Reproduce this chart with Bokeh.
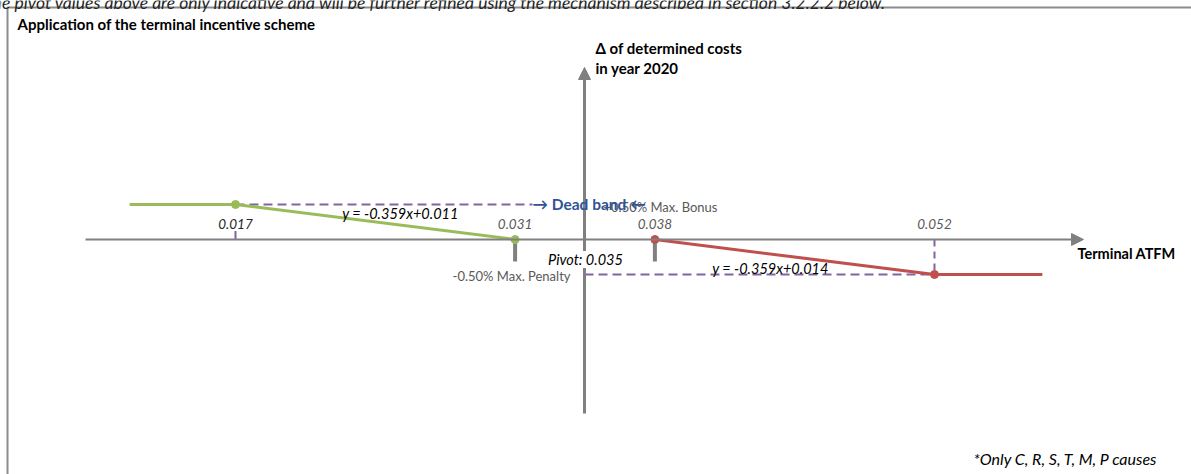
from bokeh.plotting import figure
from bokeh.models import Range1d, Label, Arrow, NormalHead
from bokeh.embed import file_html
from bokeh.resources import INLINE

# ---- data ----
thresholds = [0.017, 0.031, 0.038, 0.052]
threshold_labels = ["0.017", "0.031", "0.038", "0.052"]
pivot = 0.035
levels = [0.5, 0.0, -0.5]          # % change of determined costs
penalty_x = [0.0117, 0.017, 0.031]
penalty_y = [0.5, 0.5, 0.0]
bonus_x = [0.038, 0.052, 0.0574]
bonus_y = [0.0, -0.5, -0.5]
eq_penalty = "y = -0.359x+0.011"
eq_bonus = "y = -0.359x+0.014"

# ---- layout helpers (pixel -> data) ----
SX = 19971.0
def xd(px):
    return 0.017 + (px - 235) / SX
def yd(py):
    return (239 - py) / 70.0

W, H = 1191, 474
FONT = "Lato"
GREEN = "#9BBB59"
RED = "#C0504D"
PURPLE = "#8064A2"
GRAY = "#808080"
BLUE = "#2F5496"

p = figure(width=W, height=H, x_range=Range1d(xd(0), xd(W)), y_range=Range1d(yd(H), yd(0)),
           output_backend="svg", toolbar_location=None, min_border=0)
p.axis.visible = False
p.grid.visible = False
p.outline_line_color = None

# frame border
p.line([xd(7), xd(7), xd(W + 5)], [yd(H + 5), yd(7), yd(7)], line_color="#8c8c8c", line_width=2)

# purple dashed helper lines
p.line([thresholds[0], xd(532)], [levels[0], levels[0]], line_color=PURPLE, line_width=2, line_dash="9 5")
p.line([thresholds[0], thresholds[0]], [levels[1], 0.12], line_color=PURPLE, line_width=2)
p.line([thresholds[3], thresholds[3]], [levels[1], levels[2]], line_color=PURPLE, line_width=2, line_dash="7 5")
p.line([xd(584), thresholds[3]], [levels[2], levels[2]], line_color=PURPLE, line_width=2, line_dash="9 5")

# axes with arrows
p.add_layout(Arrow(end=NormalHead(size=12, fill_color=GRAY, line_color=GRAY),
                   x_start=xd(85), y_start=0, x_end=xd(1083), y_end=0,
                   line_color=GRAY, line_width=2))
p.add_layout(Arrow(end=NormalHead(size=12, fill_color=GRAY, line_color=GRAY),
                   x_start=xd(584), y_start=yd(413), x_end=xd(584), y_end=yd(67),
                   line_color=GRAY, line_width=3))

# dead band ticks
for t in (thresholds[1], thresholds[2]):
    p.line([t, t], [0, yd(261)], line_color=GRAY, line_width=4)

# incentive lines
p.line(penalty_x, penalty_y, line_color=GREEN, line_width=3)
p.scatter(penalty_x[1:], penalty_y[1:], size=8, color=GREEN)
p.line(bonus_x, bonus_y, line_color=RED, line_width=3)
p.scatter(bonus_x[:2], bonus_y[:2], size=8, color=RED)

def lab(x, y, text, size=13, color="#000000", style="normal", align="center", bg=None, font=FONT):
    l = Label(x=x, y=y, text=text, text_font=font, text_font_size=f"{size}px",
              text_color=color, text_font_style=style, text_align=align,
              text_baseline="middle")
    if bg:
        l.background_fill_color = bg
    p.add_layout(l)

# threshold labels
for i, (t, s) in enumerate(zip(thresholds, threshold_labels)):
    lab(t, yd(223), s, size=13.5, color="#262626" if i == 0 else "#595959", style="italic")

lab(xd(400), yd(213), eq_penalty, size=14.5, style="italic")
lab(xd(770), yd(268), eq_bonus, size=14.5, style="italic")
lab(xd(585), yd(259), "Pivot: " + f"{pivot:.3f}", size=14.5, style="italic", bg="white")
lab(xd(570), yd(275), "-0.50% Max. Penalty", size=13, color="#595959", align="right")
lab(xd(603), yd(206), "+0.50% Max. Bonus", size=13, color="#595959", align="left")
lab(xd(532), yd(203), "\u2192 Dead band \u2190", size=15.5, color=BLUE, style="bold", align="left")
lab(xd(595), yd(47), "\u0394 of determined costs", size=15, style="bold", align="left")
lab(xd(595), yd(67), "in year 2020", size=15, style="bold", align="left")
lab(xd(1077), yd(253), "Terminal ATFM", size=14.5, style="bold", align="left")
lab(xd(17), yd(23), "Application of the terminal incentive scheme", size=15, style="bold", align="left")
lab(xd(973), yd(458), "*Only C, R, S, T, M, P causes", size=16, style="italic", align="left")
lab(xd(886), yd(1.5), "The pivot values above are only indicative and will be further refined using the mechanism described in section 3.2.2.2 below.",
    size=17.5, style="italic", align="right", color="#262626")

open("out.html", "w").write(file_html(p, INLINE))
